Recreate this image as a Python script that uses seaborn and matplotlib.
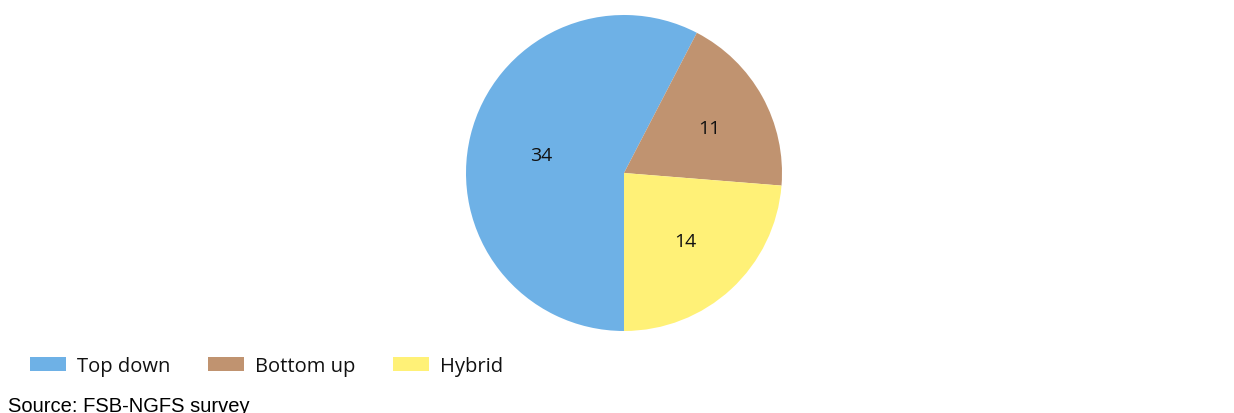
import matplotlib
matplotlib.use("Agg")
import matplotlib.pyplot as plt
import seaborn as sns
import numpy as np

# Survey responses by approach
categories = ["Top down", "Bottom up", "Hybrid"]
counts = [34, 11, 14]
colors = ["#6EB1E6", "#C09370", "#FFF177"]
source_note = "Source: FSB-NGFS survey"

# Radial position of each value label (fraction of the radius)
label_dist = [0.54, 0.62, 0.57]

sns.set_theme(style="white")
plt.rcParams["font.family"] = ["Open Sans", "DejaVu Sans"]

W, H = 1234, 414
fig = plt.figure(figsize=(W / 100, H / 100), dpi=100)

# Pie axes: centre (624, 174) px, radius 158 px
cx, cy, r = 624, 174, 158
ax = fig.add_axes([(cx - r) / W, (H - cy - r) / H, 2 * r / W, 2 * r / H])
wedges, texts, autotexts = ax.pie(
    counts,
    colors=colors,
    startangle=270,
    counterclock=False,
    autopct=lambda p: f"{round(p * sum(counts) / 100):d}",
    pctdistance=0.58,
    textprops=dict(fontsize=14, color="#111111"),
    wedgeprops=dict(linewidth=0),
)
# place each value label along its wedge's bisector (nudged slightly down)
for w, t, d in zip(wedges, autotexts, label_dist):
    ang = np.deg2rad((w.theta1 + w.theta2) / 2)
    t.set_position((d * np.cos(ang), d * np.sin(ang) - 0.013))

ax.set_xlim(-1, 1)
ax.set_ylim(-1, 1)
ax.set_aspect("equal")
ax.axis("off")

leg = fig.legend(
    wedges,
    categories,
    loc="center left",
    bbox_to_anchor=(30 / W, 1 - 367 / H),
    ncol=3,
    frameon=False,
    fontsize=14.5,
    handlelength=1.8,
    handleheight=0.68,
    handletextpad=0.55,
    columnspacing=1.85,
    borderaxespad=0,
    borderpad=0,
)
for t in leg.get_texts():
    t.set_color("#111111")

fig.text(8 / W, 1 - 412 / H, source_note, fontsize=14.5, family="Liberation Sans",
         color="#000000", va="baseline", ha="left")

fig.savefig("out.png", dpi=100)
